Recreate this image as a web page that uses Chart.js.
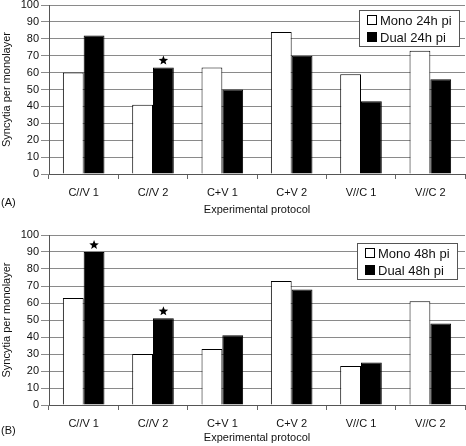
<!DOCTYPE html>
<html>
<head>
<meta charset="utf-8">
<script src="https://cdn.jsdelivr.net/npm/chart.js@4.4.0/dist/chart.umd.min.js"></script>
<style>
  body { margin: 0; background: #fff; }
  canvas { display: block; }
</style>
</head>
<body>
<canvas id="chartA" width="466" height="220"></canvas>
<canvas id="chartB" width="466" height="226"></canvas>
<script>
const protocols = ['C//V 1', 'C//V 2', 'C+V 1', 'C+V 2', 'V//C 1', 'V//C 2'];
const mono24 = [60, 41, 63, 84, 59, 73];
const dual24 = [82, 63, 50, 70, 43, 56];
const mono48 = [63, 30, 33, 73, 23, 61];
const dual48 = [90, 51, 41, 68, 25, 48];
const stars24 = [1];
const stars48 = [0, 1];
const yMin = 0, yMax = 100, yStep = 10;

const FONT = 'Liberation Sans, Arial, sans-serif';
const INK = '#111';

function drawStar(ctx, cx, cy, outer, inner)
{
    ctx.beginPath();
    for (let i = 0; i < 10; i++) {
      const r = i % 2 === 0 ? outer : inner;
      const a = -Math.PI / 2 + i * Math.PI / 5;
      const x = cx + r * Math.cos(a), y = cy + r * Math.sin(a);
      if (i === 0) ctx.moveTo(x, y); else ctx.lineTo(x, y);
    }
    ctx.closePath();
    ctx.fill();
}

const extras = {
    id: 'extras',
    afterDraw(chart, args, opts) {
      const ctx = chart.ctx;
      const area = chart.chartArea;
      ctx.save();

      // stars above the dual bars
      const meta = chart.getDatasetMeta(1);
      ctx.fillStyle = '#000';
      opts.stars.forEach(i => {
        const bar = meta.data[i];
        drawStar(ctx, bar.x, bar.y - 7, 5, 2.1);
      });

      // legend box inside the plot
      const bw = 101, bh = 37;
      const bx = area.right - opts.legendRight - bw;
      const by = area.top + opts.legendTop;
      ctx.fillStyle = '#fff';
      ctx.fillRect(bx, by, bw, bh);
      ctx.strokeStyle = '#555';
      ctx.lineWidth = 1;
      ctx.strokeRect(bx + 0.5, by + 0.5, bw - 1, bh - 1);
      ctx.font = '13px ' + FONT;
      ctx.textBaseline = 'middle';
      chart.data.datasets.forEach((ds, k) => {
        const cy = by + 10 + k * 17;
        ctx.fillStyle = ds.backgroundColor;
        ctx.fillRect(bx + 8, cy - 5, 10, 10);
        ctx.strokeStyle = '#000';
        ctx.strokeRect(bx + 8.5, cy - 4.5, 9, 9);
        ctx.fillStyle = INK;
        ctx.fillText(ds.label, bx + 21, cy + 1);
      });

      // panel letter
      ctx.font = '11px ' + FONT;
      ctx.fillStyle = INK;
      ctx.textBaseline = 'middle';
      ctx.fillText(opts.panel, 1, opts.panelY);
      ctx.restore();
    }
};

function makeChart(id, mono, dual, monoLabel, dualLabel, cfg)
{
    const ctx = document.getElementById(id).getContext('2d');
    return new Chart(ctx, {
      type: 'bar',
      data: {
        labels: protocols,
        datasets: [
          { label: monoLabel, data: mono, backgroundColor: '#fff', borderColor: '#000', borderWidth: 1 },
          { label: dualLabel, data: dual, backgroundColor: '#000', borderColor: '#000', borderWidth: 1 }
        ]
      },
      options: {
        responsive: false,
        animation: false,
        devicePixelRatio: 1,
        layout: { padding: { top: cfg.top, right: 1, left: 0, bottom: 0 } },
        datasets: { bar: { categoryPercentage: 0.6, barPercentage: 1.0 } },
        plugins: {
          legend: { display: false },
          tooltip: { enabled: false },
          extras: cfg.extras
        },
        scales: {
          x: {
            grid: { display: true, offset: true, drawOnChartArea: false, tickLength: 5, color: '#666' },
            border: { color: '#555' },
            ticks: { color: INK, font: { family: FONT, size: 11 }, padding: 7, maxRotation: 0 },
            title: { display: true, text: 'Experimental protocol', color: INK,
                     font: { family: FONT, size: 11 }, padding: { top: 0, bottom: cfg.titlePad } },
            afterFit(scale) { scale.height = cfg.xHeight; }
          },
          y: {
            min: yMin, max: yMax,
            grid: { color: '#8a8a8a', tickLength: 8 },
            border: { color: '#555' },
            ticks: { stepSize: yStep, color: INK, font: { family: FONT, size: 11 }, padding: 2 },
            title: { display: true, text: 'Syncytia per monolayer', color: INK,
                     font: { family: FONT, size: 11 }, padding: { top: 0, bottom: 0 } },
            afterFit(scale) { scale.width = 49; scale.paddingTop = 0; scale.paddingBottom = 0; }
          }
        }
      },
      plugins: [extras]
    });
}

makeChart('chartA', mono24, dual24, 'Mono 24h pi', 'Dual 24h pi', {
    top: 5, xHeight: 46, titlePad: 3,
    extras: { stars: stars24, legendRight: 5, legendTop: 5, panel: '(A)', panelY: 203 }
});
makeChart('chartB', mono48, dual48, 'Mono 48h pi', 'Dual 48h pi', {
    top: 15, xHeight: 41, titlePad: 1,
    extras: { stars: stars48, legendRight: 7, legendTop: 8, panel: '(B)', panelY: 211 }
});
</script>
</body>
</html>
